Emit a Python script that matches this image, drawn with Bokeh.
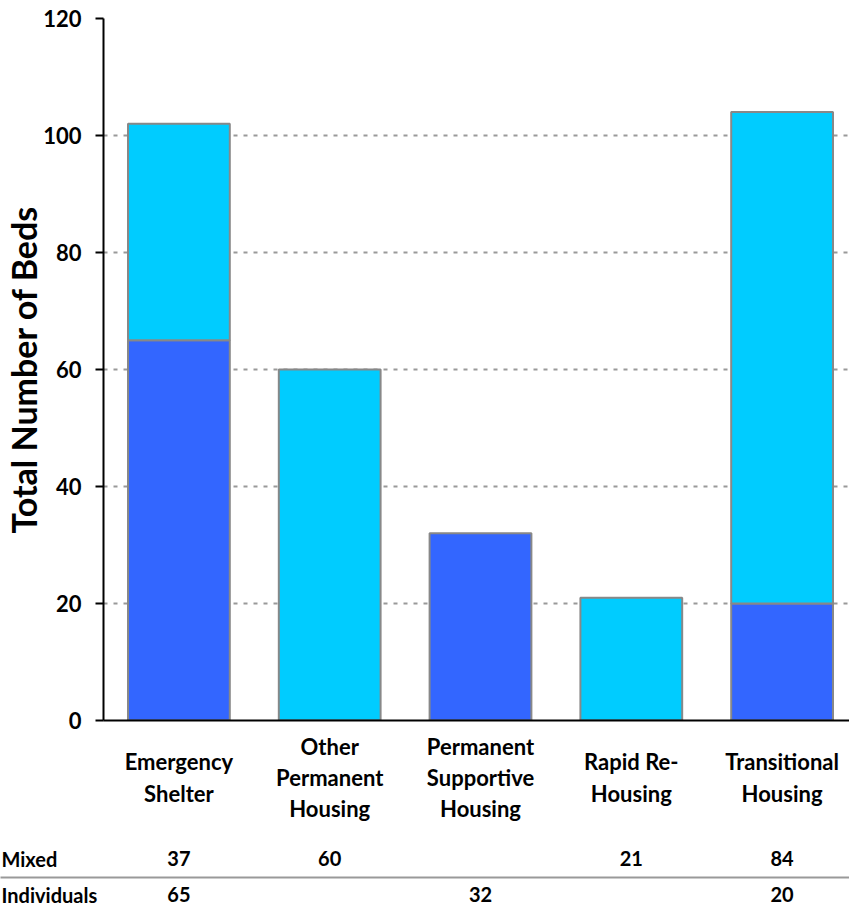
from bokeh.plotting import figure
from bokeh.models import ColumnDataSource, Range1d, FixedTicker
from bokeh.core.properties import value
from bokeh.embed import file_html
from bokeh.resources import INLINE

# ---- data ----
categories = ["Emergency\nShelter", "Other\nPermanent\nHousing",
              "Permanent\nSupportive\nHousing", "Rapid Re-\nHousing",
              "Transitional\nHousing"]
individuals = [65, None, 32, None, 20]
mixed = [37, 60, None, 21, 84]
series_names = ["Mixed", "Individuals"]
y_ticks = [0, 20, 40, 60, 80, 100, 120]

DARK = "#3366FF"
LIGHT = "#00CCFF"
FONT = "Lato"
W = 849
PX_PER_CAT = 150.8
LEFT = 103  # frame left inside the canvas
P_H = 732   # height of the chart part (frame bottom at 720)

xs = list(range(len(categories)))
x_end = -0.5 + (W - LEFT) / PX_PER_CAT

# bar sources
ind_x, ind_top = [], []
mix_x, mix_bot, mix_top = [], [], []
for i, (a, b) in enumerate(zip(individuals, mixed)):
    base = a if a is not None else 0
    if a is not None:
        ind_x.append(i); ind_top.append(a)
    if b is not None:
        mix_x.append(i); mix_bot.append(base); mix_top.append(base + b)

p = figure(width=W, height=P_H, output_backend="svg", toolbar_location=None,
           x_range=Range1d(-0.5, x_end), y_range=Range1d(0, 120),
           min_border_left=LEFT, min_border_right=0, min_border_top=18,
           min_border_bottom=P_H - 720)
p.outline_line_color = None

p.vbar(x=ind_x, bottom=0, top=ind_top, width=0.675, fill_color=DARK,
       line_color="#888888", line_width=2)
p.vbar(x=mix_x, bottom=mix_bot, top=mix_top, width=0.675, fill_color=LIGHT,
       line_color="#888888", line_width=2)

# grid
p.xgrid.grid_line_color = None
p.ygrid.grid_line_color = "#999999"
p.ygrid.grid_line_dash = "4 6"
p.ygrid.grid_line_width = 2

# y axis
p.yaxis.ticker = FixedTicker(ticks=y_ticks)
p.yaxis.minor_tick_line_color = None
p.yaxis.major_tick_out = 8
p.yaxis.major_tick_in = 0
p.yaxis.major_tick_line_width = 2
p.yaxis.axis_line_width = 2
p.yaxis.axis_line_color = "black"
p.yaxis.major_tick_line_color = "black"
p.yaxis.major_label_text_font = FONT
p.yaxis.major_label_text_font_style = "bold"
p.yaxis.major_label_text_font_size = "22px"
p.yaxis.major_label_text_line_height = 1.0
p.yaxis.major_label_text_color = "black"
p.yaxis.major_label_standoff = 14
p.yaxis.axis_label = "Total Number of Beds"
p.yaxis.axis_label_text_font = FONT
p.yaxis.axis_label_text_font_style = "bold"
p.yaxis.axis_label_text_font_size = "34px"
p.yaxis.axis_label_text_color = "black"
p.yaxis.axis_label_standoff = -4

# x axis: line only
p.xaxis.ticker = FixedTicker(ticks=[])
p.xaxis.major_tick_line_color = None
p.xaxis.minor_tick_line_color = None
p.xaxis.axis_line_color = "black"
p.xaxis.axis_line_width = 2

# ---- category labels + data table (second root, below) ----
T_TOP, T_BOT = P_H, 906
t_start = -0.5 - LEFT / PX_PER_CAT
t = figure(width=W, height=T_BOT - T_TOP, output_backend="svg", toolbar_location=None,
           x_range=Range1d(t_start, t_start + W / PX_PER_CAT),
           y_range=Range1d(T_BOT, T_TOP),
           min_border_left=0, min_border_right=0, min_border_top=0,
           min_border_bottom=0)
t.axis.visible = False
t.grid.visible = False
t.outline_line_color = None

cat_src = ColumnDataSource(dict(x=xs, y=[777] * len(xs), text=categories))
t.text(x="x", y="y", text="text", source=cat_src, text_align="center",
       text_baseline="middle", text_font=value(FONT), text_font_style="bold",
       text_font_size="22px", text_color="black", text_line_height=1.15)


def fmt(v):
    return "" if v is None else str(v)


row_y = [858, 894]
for name, vals, yy in zip(series_names, [mixed, individuals], row_y):
    src = ColumnDataSource(dict(x=xs, y=[yy] * len(xs), text=[fmt(v) for v in vals]))
    t.text(x="x", y="y", text="text", source=src, text_align="center",
           text_baseline="middle", text_font=value(FONT), text_font_style="bold",
           text_font_size="20px", text_color="black")
    t.text(x=[t_start + 1 / PX_PER_CAT], y=[yy], text=[name],
           text_align="left", text_baseline="middle", text_font=value(FONT),
           text_font_style="bold", text_font_size="20px", text_color="black")

t.segment(x0=[-3], x1=[6], y0=[877], y1=[877], line_color="#999999", line_width=2)

open("out.html", "w").write(file_html([p, t], INLINE))
